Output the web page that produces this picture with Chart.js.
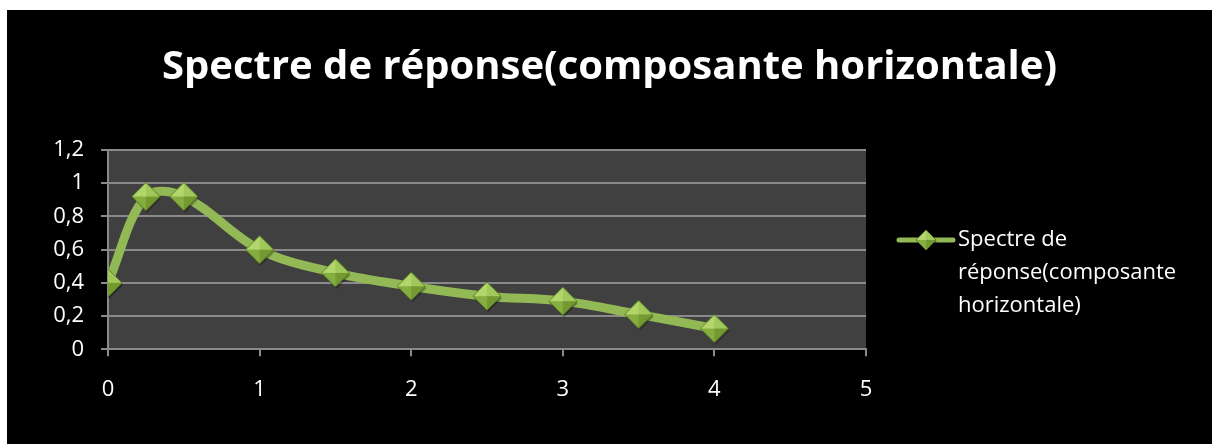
<!DOCTYPE html>
<html>
<head>
<meta charset="utf-8">
<script src="https://cdn.jsdelivr.net/npm/chart.js@4/dist/chart.umd.min.js"></script>
<style>
  body { margin: 0; background: #ffffff; }
  #wrap { position: absolute; left: 7px; top: 10px; width: 1205px; height: 434px; background: #000000; }
</style>
</head>
<body>
<div id="wrap"><canvas id="chart"></canvas></div>
<script>
// Periods (s) and spectral values
const periods = [0, 0.25, 0.5, 1, 1.5, 2, 2.5, 3, 3.5, 4];
const spectrum = [0.40, 0.92, 0.92, 0.60, 0.46, 0.38, 0.32, 0.29, 0.21, 0.125];
const seriesLabel = 'Spectre de réponse(composante horizontale)';
const legendLines = ['Spectre de', 'réponse(composante', 'horizontale)'];

const FONT = '"Open Sans", Lato, sans-serif';

// Beveled diamond marker, like the Excel one
function makeDiamond(r) {
    const c = document.createElement('canvas');
    const s = r * 2 + 4;
    c.width = s; c.height = s;
    const g = c.getContext('2d');
    const m = s / 2;
    const tri = (pts, col) => {
        g.beginPath();
        g.moveTo(pts[0][0], pts[0][1]);
        g.lineTo(pts[1][0], pts[1][1]);
        g.lineTo(pts[2][0], pts[2][1]);
        g.closePath();
        g.fillStyle = col;
        g.fill();
    };
    // shadow
    g.fillStyle = 'rgba(0,0,0,0.35)';
    g.beginPath();
    g.moveTo(m + 1, m - r + 2); g.lineTo(m + r + 1, m + 2); g.lineTo(m + 1, m + r + 2); g.lineTo(m - r + 1, m + 2);
    g.closePath(); g.fill();
    tri([[m, m - r], [m - r, m], [m, m]], '#b2d66c');
    tri([[m, m - r], [m + r, m], [m, m]], '#a0c85a');
    tri([[m - r, m], [m, m + r], [m, m]], '#86ad3f');
    tri([[m + r, m], [m, m + r], [m, m]], '#739a31');
    g.beginPath();
    g.moveTo(m, m - r); g.lineTo(m + r, m); g.lineTo(m, m + r); g.lineTo(m - r, m);
    g.closePath();
    g.strokeStyle = '#5d7f26';
    g.lineWidth = 1;
    g.stroke();
    return c;
}

const bigDiamond = makeDiamond(14);
const smallDiamond = makeDiamond(10);

// dark plot background + custom legend on the right
const plotBackground = {
    id: 'plotBackground',
    beforeDraw(chart) {
        const a = chart.chartArea;
        const ctx = chart.ctx;
        ctx.save();
        ctx.fillStyle = '#404040';
        ctx.fillRect(a.left, a.top, a.right - a.left, a.bottom - a.top);
        ctx.restore();
    }
};

const sideLegend = {
    id: 'sideLegend',
    afterDraw(chart) {
        const ctx = chart.ctx;
        const x0 = chart.chartArea.right + 33;
        const y0 = 230;
        ctx.save();
        ctx.strokeStyle = '#93b956';
        ctx.lineWidth = 5;
        ctx.lineCap = 'round';
        ctx.beginPath();
        ctx.moveTo(x0, y0);
        ctx.lineTo(x0 + 54, y0);
        ctx.stroke();
        ctx.drawImage(smallDiamond, x0 + 27 - smallDiamond.width / 2, y0 - smallDiamond.height / 2);
        ctx.fillStyle = '#ffffff';
        ctx.font = '22px ' + FONT;
        ctx.textBaseline = 'middle';
        legendLines.forEach((t, i) => ctx.fillText(t, x0 + 59, y0 + i * 33));
        ctx.restore();
    }
};

const fmt = v => String(Number(v.toFixed(1))).replace('.', ',');

new Chart(document.getElementById('chart'), {
    type: 'line',
    data: {
        datasets: [{
            label: seriesLabel,
            data: periods.map((p, i) => ({ x: p, y: spectrum[i] })),
            borderColor: '#93b956',
            borderWidth: 9,
            tension: 0.35,
            pointStyle: bigDiamond,
            pointRadius: 14,
            pointHoverRadius: 14,
            fill: false
        }]
    },
    options: {
        responsive: true,
        maintainAspectRatio: false,
        animation: false,
        layout: { padding: 0 },
        scales: {
            x: {
                type: 'linear',
                min: 0,
                max: 5,
                ticks: { stepSize: 1, color: '#ffffff', font: { size: 22, family: FONT }, padding: 20, maxRotation: 0 },
                grid: { drawOnChartArea: false, drawTicks: true, tickLength: 7, color: '#8a8a8a', lineWidth: 2 },
                border: { color: '#8a8a8a', width: 2 },
                afterFit(scale) { scale.height = 94.7; }
            },
            y: {
                min: 0,
                max: 1.2,
                ticks: { stepSize: 0.2, color: '#ffffff', font: { size: 22, family: FONT }, padding: 17, callback: v => fmt(v) },
                grid: { color: '#8a8a8a', lineWidth: 2, tickLength: 7 },
                border: { color: '#8a8a8a', width: 2 },
                afterFit(scale) { scale.width = 101; }
            },
            // empty axis on the right, only to reserve the legend's room
            side: {
                position: 'right',
                min: 0,
                max: 1,
                ticks: { display: false },
                grid: { display: false, drawTicks: false },
                border: { display: false },
                afterFit(scale) { scale.width = 346; }
            }
        },
        plugins: {
            legend: { display: false },
            tooltip: { enabled: false },
            title: {
                display: true,
                text: seriesLabel,
                color: '#ffffff',
                font: { size: 40, weight: 'bold', family: FONT },
                padding: { top: 34, bottom: 58 }
            }
        }
    },
    plugins: [plotBackground, sideLegend]
});
</script>
</body>
</html>
